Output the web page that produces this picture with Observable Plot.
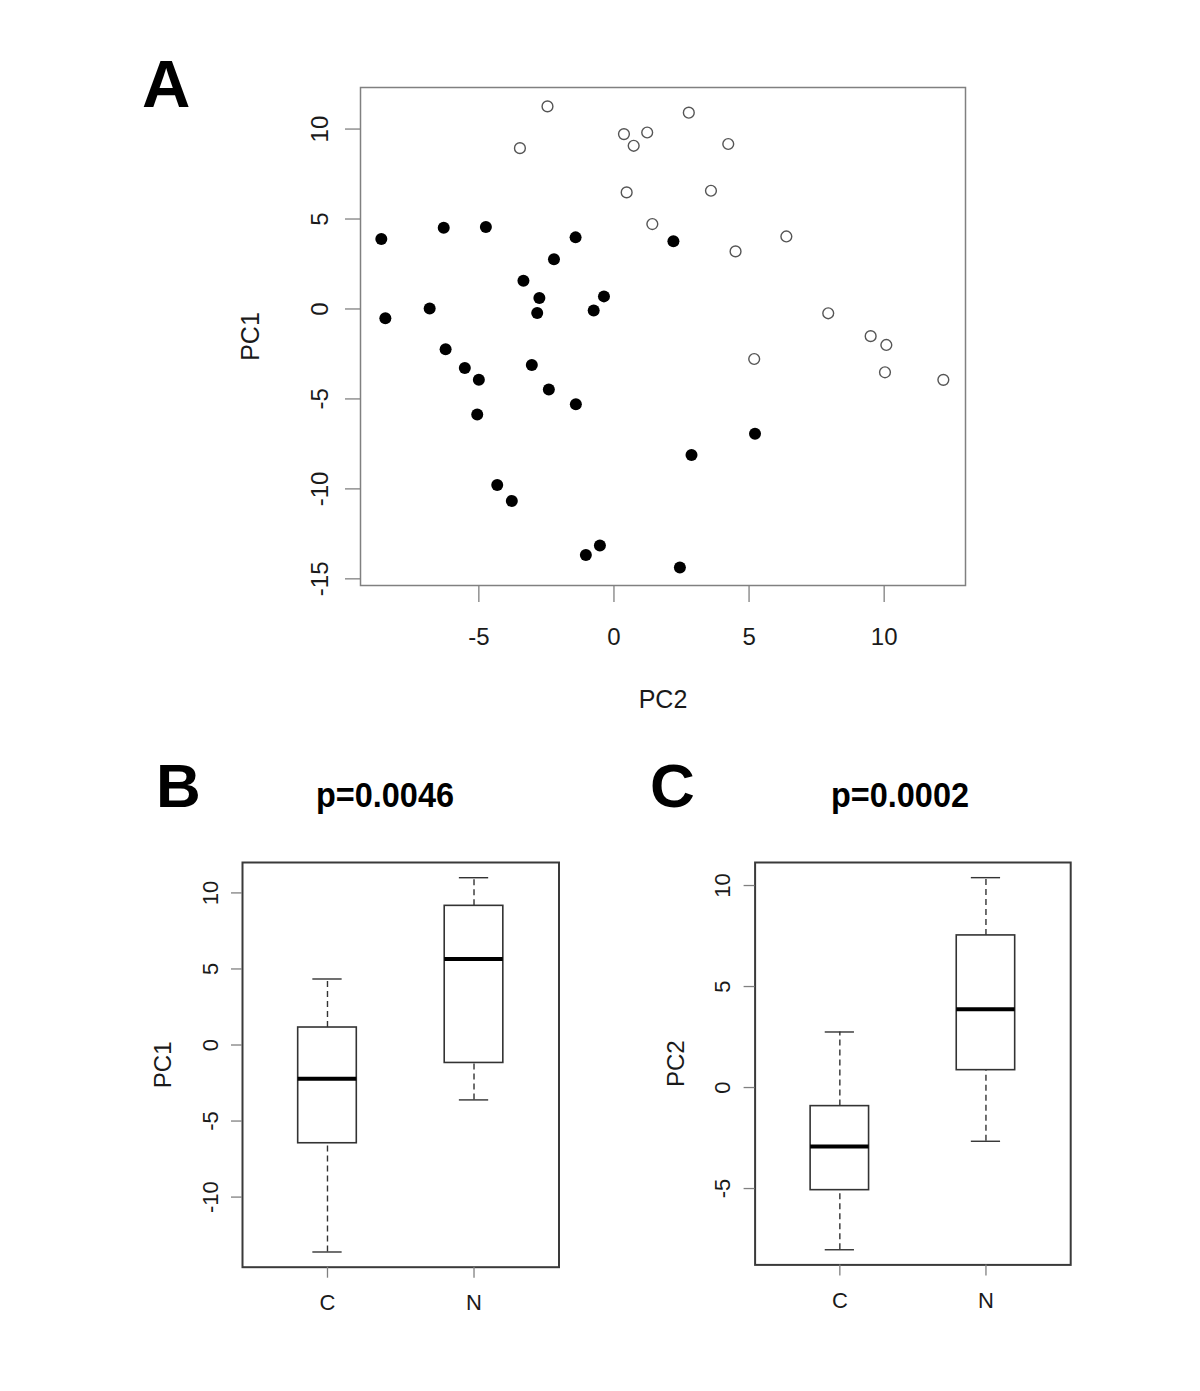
<!DOCTYPE html>
<html><head><meta charset="utf-8">
<script src="https://cdn.jsdelivr.net/npm/d3@7"></script>
<script src="https://cdn.jsdelivr.net/npm/@observablehq/plot@0.6"></script>
<style>
body{margin:0;background:#fff;}
#root{position:relative;width:1200px;height:1391px;background:#fff;font-family:"Liberation Sans",Arial,sans-serif;overflow:hidden;}
.panel{position:absolute;}
.lbl{position:absolute;font-weight:bold;line-height:1;color:#000;white-space:nowrap;transform-origin:0 0;}
</style></head><body><div id="root"></div>
<script>
// ---- Panel A: PCA scatter (x = PC2, y = PC1) ----
const cPC2 = [-8.61,-8.46,-6.30,-4.74,-1.42,-2.22,-3.35,-2.76,-2.84,-0.37,-0.75,-6.82,2.20,-6.23,-5.52,-5.00,-3.04,-2.41,-5.06,-1.41,5.22,2.87,-4.32,-3.78,-1.04,-0.52,2.44];
const cPC1 = [3.89,-0.52,4.52,4.56,3.98,2.76,1.57,0.61,-0.22,0.70,-0.09,0.02,3.76,-2.24,-3.28,-3.94,-3.11,-4.48,-5.87,-5.30,-6.94,-8.11,-9.78,-10.67,-13.67,-13.15,-14.37];
const nPC2 = [-2.46,-3.48,0.37,1.23,0.73,0.47,1.42,2.77,4.23,3.59,4.50,6.38,7.93,9.50,10.08,5.19,10.03,12.19];
const nPC1 = [11.26,8.94,9.72,9.81,9.07,6.48,4.72,10.91,9.17,6.57,3.20,4.03,-0.24,-1.51,-2.00,-2.78,-3.52,-3.94];
const xTicksA = [-5,0,5,10];
const yTicksA = [10,5,0,-5,-10,-15];

// ---- Panels B and C: box plot summaries (C, N) ----
const groups = ["C","N"];
const pc1Min = [-13.61,-3.61], pc1Q1 = [-6.46,-1.18], pc1Med = [-2.22,5.65], pc1Q3 = [1.15,9.15], pc1Max = [4.34,11.0];
const pc2Min = [-8.03,-2.66], pc2Q1 = [-5.08,0.86], pc2Med = [-2.92,3.87], pc2Q3 = [-0.92,7.53], pc2Max = [2.75,10.39];
const yTicksB = [10,5,0,-5,-10];
const yTicksC = [10,5,0,-5];
const panelLetters = ["A","B","C"];
const pValues = ["p=0.0046","p=0.0002"];

const FONT = "Liberation Sans, Arial, sans-serif";
const root = document.getElementById("root");
function place(node, left, top){ const d=document.createElement("div"); d.className="panel"; d.style.left=left+"px"; d.style.top=top+"px"; d.appendChild(node); root.appendChild(d); }
function label(text, left, top, size, sx){ const d=document.createElement("div"); d.className="lbl"; d.textContent=text; d.style.left=left+"px"; d.style.top=top+"px"; d.style.fontSize=size+"px"; if(sx) d.style.transform=`scaleX(${sx})`; root.appendChild(d); }

// Panel A
const cPts = cPC2.map((x,i)=>({x, y:cPC1[i]}));
const nPts = nPC2.map((x,i)=>({x, y:nPC1[i]}));
const A = Plot.plot({
  width:1200, height:720, marginLeft:360, marginRight:235, marginTop:87, marginBottom:135,
  style:{fontFamily:FONT, background:"transparent", color:"#1a1a1a"},
  x:{domain:[-9.38,13.01]}, y:{domain:[-15.37,12.31]},
  marks:[
    Plot.frame({stroke:"#808080", strokeWidth:1.5}),
    Plot.axisX({ticks:xTicksA, tickFormat:d=>String(d), tickSize:17, tickPadding:25, stroke:"#808080", strokeWidth:1.3, fill:"#1a1a1a", fontSize:24, label:null}),
    Plot.axisY({ticks:yTicksA, tickFormat:d=>String(d), tickSize:15, tickPadding:18, tickRotate:-90, stroke:"#808080", strokeWidth:1.3, fill:"#1a1a1a", fontSize:24, label:null}),
    Plot.text(["PC2"], {text:d=>d, frameAnchor:"bottom", dy:114, textAnchor:"middle", lineAnchor:"middle", fontSize:25, fill:"#1a1a1a"}),
    Plot.text(["PC1"], {text:d=>d, frameAnchor:"left", dx:-110, rotate:-90, textAnchor:"middle", lineAnchor:"middle", fontSize:25, fill:"#1a1a1a"}),
    Plot.dot(nPts, {x:"x", y:"y", r:5.4, fill:"white", stroke:"#555", strokeWidth:1.4}),
    Plot.dot(cPts, {x:"x", y:"y", r:6, fill:"black", stroke:"none"})
  ]
});
place(A, 0, 0);

function boxPanel(mins, q1s, meds, q3s, maxs, yDomain, yTicks, yLabel, marginLeft, marginRight, marginBottom){
  const data = groups.map((g,i)=>({g, pos:i+1, min:mins[i], q1:q1s[i], med:meds[i], q3:q3s[i], max:maxs[i]}));
  return Plot.plot({
    width:600, height:600, marginLeft, marginRight, marginTop:122, marginBottom,
    style:{fontFamily:FONT, background:"transparent", color:"#1a1a1a"},
    x:{domain:[0.42,2.58]}, y:{domain:yDomain},
    marks:[
      Plot.frame({stroke:"#3a3a3a", strokeWidth:2}),
      Plot.axisX({ticks:[1,2], tickFormat:d=>groups[d-1], tickSize:11, tickPadding:16, stroke:"#808080", strokeWidth:1.3, fill:"#1a1a1a", fontSize:22, label:null}),
      Plot.axisY({ticks:yTicks, tickFormat:d=>String(d), tickSize:11, tickPadding:14, tickRotate:-90, stroke:"#808080", strokeWidth:1.3, fill:"#1a1a1a", fontSize:22, label:null}),
      Plot.text([yLabel], {text:d=>d, frameAnchor:"left", dx:-79, rotate:-90, textAnchor:"middle", lineAnchor:"middle", fontSize:24, fill:"#1a1a1a"}),
      Plot.ruleX(data, {x:"pos", y1:"q3", y2:"max", stroke:"#333", strokeWidth:1.4, strokeDasharray:"6,4"}),
      Plot.ruleX(data, {x:"pos", y1:"min", y2:"q1", stroke:"#333", strokeWidth:1.4, strokeDasharray:"6,4"}),
      Plot.rect(data, {x1:d=>d.pos-0.2, x2:d=>d.pos+0.2, y1:"q1", y2:"q3", fill:"white", stroke:"#333", strokeWidth:1.6}),
      Plot.ruleY(data, {y:"med", x1:d=>d.pos-0.2, x2:d=>d.pos+0.2, stroke:"black", strokeWidth:4}),
      Plot.ruleY(data, {y:"max", x1:d=>d.pos-0.1, x2:d=>d.pos+0.1, stroke:"#333", strokeWidth:1.4}),
      Plot.ruleY(data, {y:"min", x1:d=>d.pos-0.1, x2:d=>d.pos+0.1, stroke:"#333", strokeWidth:1.4})
    ]
  });
}
const B = boxPanel(pc1Min, pc1Q1, pc1Med, pc1Q3, pc1Max, [-14.61,12.0], yTicksB, "PC1", 242, 41.5, 73.3);
place(B, 0, 740);
const C = boxPanel(pc2Min, pc2Q1, pc2Med, pc2Q3, pc2Max, [-8.78,11.14], yTicksC, "PC2", 154.6, 129.8, 75.6);
place(C, 600, 740);

label(panelLetters[0], 142, 50, 67);
label(panelLetters[1], 156, 755, 62);
label(panelLetters[2], 650, 755, 62);
label(pValues[0], 316, 777, 35, 0.927);
label(pValues[1], 831, 777, 35, 0.927);
</script></body></html>
